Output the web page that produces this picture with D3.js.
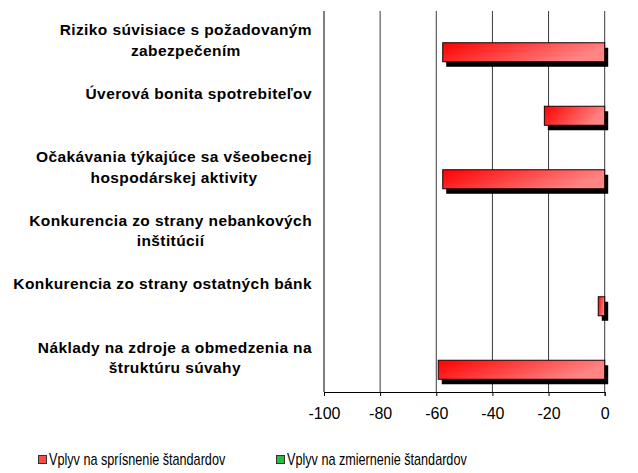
<!DOCTYPE html>
<html>
<head>
<meta charset="utf-8">
<script src="https://cdn.jsdelivr.net/npm/d3@7"></script>
<style>
  body { margin: 0; background: #fff; }
  svg { font-family: "Liberation Sans", Arial, sans-serif; }
</style>
</head>
<body>
<div id="chart"></div>
<script>
// --------------------------------------------------------
// DATA
// --------------------------------------------------------
const categories = [
  "Riziko súvisiace s požadovaným\nzabezpečením",
  "Úverová bonita spotrebiteľov",
  "Očakávania týkajúce sa všeobecnej\nhospodárskej aktivity",
  "Konkurencia zo strany nebankových\ninštitúcií",
  "Konkurencia zo strany ostatných bánk",
  "Náklady na zdroje a obmedzenia na\nštruktúru súvahy"
];
const tightening = [-57.7, -21.5, -57.7, 0, -2.3, -59.3]; // red series
const easing = [0, 0, 0, 0, 0, 0]; // green series
const xTicks = [-100, -80, -60, -40, -20, 0];
const seriesNames = ["Vplyv na sprísnenie štandardov", "Vplyv na zmiernenie štandardov"];

// --------------------------------------------------------
// LAYOUT
// --------------------------------------------------------
const width = 638;
const height = 473;
const plot = { left: 324, right: 604.7, top: 11, bottom: 392 };

const svg = d3.select("#chart")
  .append("svg")
  .attr("width", width)
  .attr("height", height);

const x = d3.scaleLinear().domain([-100, 0]).range([plot.left, plot.right]);

const y = d3.scaleBand()
  .domain(d3.range(categories.length))
  .range([plot.top, plot.bottom])
  .padding(0);

// two slots per category: easing on top, tightening below
const slot = d3.scaleBand()
  .domain(["easing", "tightening"])
  .range([0, y.bandwidth()])
  .paddingInner(0)
  .paddingOuter(0.67);

// gradients for the bars
const defs = svg.append("defs");
const redGrad = defs.append("linearGradient")
  .attr("id", "redGrad")
  .attr("x1", 0).attr("y1", 0).attr("x2", 1).attr("y2", 0.3);
redGrad.append("stop").attr("offset", "0%").attr("stop-color", "#ff0000");
redGrad.append("stop").attr("offset", "100%").attr("stop-color", "#ff8585");

const greenGrad = defs.append("linearGradient")
  .attr("id", "greenGrad")
  .attr("x1", 0).attr("y1", 0).attr("x2", 1).attr("y2", 0.3);
greenGrad.append("stop").attr("offset", "0%").attr("stop-color", "#00b020");
greenGrad.append("stop").attr("offset", "100%").attr("stop-color", "#60e070");

// --------------------------------------------------------
// GRID + AXES
// --------------------------------------------------------
svg.append("g")
  .selectAll("line")
  .data(xTicks.slice(1))
  .join("line")
  .attr("x1", (d) => x(d))
  .attr("x2", (d) => x(d))
  .attr("y1", plot.top)
  .attr("y2", plot.bottom)
  .attr("stroke", "#3a3a3a")
  .attr("stroke-width", 1);

// left axis line
svg.append("line")
  .attr("x1", plot.left).attr("x2", plot.left)
  .attr("y1", plot.top).attr("y2", plot.bottom)
  .attr("stroke", "#000");

const xAxis = d3.axisBottom(x)
  .tickValues(xTicks)
  .tickSize(4)
  .tickFormat(d3.format("d"));

const axisG = svg.append("g")
  .attr("transform", `translate(0,${plot.bottom})`)
  .call(xAxis);
axisG.select(".domain").attr("stroke", "#000");
axisG.selectAll(".tick line").attr("stroke", "#000");
axisG.selectAll(".tick text")
  .attr("y", 26.5)
  .attr("dy", 0)
  .attr("fill", "#000")
  .style("font-size", "16px")
  .style("font-family", "'Liberation Sans', Arial, sans-serif")
  .text((d) => d3.format("d")(d).replace("−", "-"));

// --------------------------------------------------------
// BARS
// --------------------------------------------------------
const series = [
  { key: "easing", values: easing, fill: "url(#greenGrad)" },
  { key: "tightening", values: tightening, fill: "url(#redGrad)" }
];

series.forEach((s) => {
  const rows = s.values
    .map((v, i) => ({ i, v }))
    .filter((d) => d.v !== 0);

  const g = svg.append("g");

  // drop shadow
  g.selectAll("rect.shadow")
    .data(rows)
    .join("rect")
    .attr("class", "shadow")
    .attr("x", (d) => x(Math.min(d.v, 0)) + 3.5)
    .attr("y", (d) => y(d.i) + slot(s.key) + 5)
    .attr("width", (d) => Math.abs(x(d.v) - x(0)))
    .attr("height", slot.bandwidth())
    .attr("fill", "#000");

  g.selectAll("rect.bar")
    .data(rows)
    .join("rect")
    .attr("class", "bar")
    .attr("x", (d) => x(Math.min(d.v, 0)))
    .attr("y", (d) => y(d.i) + slot(s.key))
    .attr("width", (d) => Math.abs(x(d.v) - x(0)))
    .attr("height", slot.bandwidth())
    .attr("fill", s.fill)
    .attr("stroke", "#1a0000")
    .attr("stroke-width", 1);
});

// --------------------------------------------------------
// CATEGORY LABELS
// --------------------------------------------------------
const labelRight = 312;
const lineGap = 20.5;

categories.forEach((label, i) => {
  const lines = label.split("\n");
  const cy = y(i) + y.bandwidth() / 2;
  const t = svg.append("g")
    .style("font-size", "15.5px")
    .style("font-weight", "bold")
    .style("letter-spacing", "0.4px")
    .attr("fill", "#000");
  const texts = lines.map((ln, k) =>
    t.append("text")
      .attr("y", cy - 7.75 + k * lineGap)
      .attr("text-anchor", "middle")
      .text(ln)
  );
  const maxW = d3.max(texts, (tx) => tx.node().getComputedTextLength());
  texts.forEach((tx) => tx.attr("x", labelRight - maxW / 2));
});

// --------------------------------------------------------
// LEGEND
// --------------------------------------------------------
const legendItems = [
  { name: seriesNames[0], x: 38, fill: "#ff4a4a" },
  { name: seriesNames[1], x: 276, fill: "#22c040" }
];

const legend = svg.append("g")
  .selectAll("g")
  .data(legendItems)
  .join("g")
  .attr("transform", (d) => `translate(${d.x},455)`);

legend.append("rect")
  .attr("x", 0.5).attr("y", 0.5)
  .attr("width", 8).attr("height", 8)
  .attr("fill", (d) => d.fill)
  .attr("stroke", "#333");

legend.append("text")
  .attr("transform", "translate(11,9.7) scale(0.79,1)")
  .style("font-size", "16px")
  .attr("fill", "#000")
  .text((d) => d.name);
</script>
</body>
</html>
